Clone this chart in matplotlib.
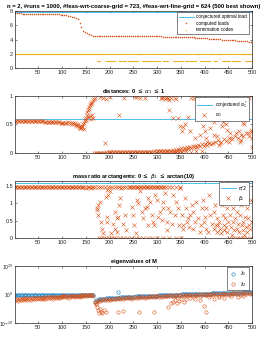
import numpy as np
import matplotlib
matplotlib.use('Agg')
import matplotlib.pyplot as plt

plt.rcParams['font.family'] = ['Liberation Sans', 'DejaVu Sans']
plt.rcParams['mathtext.fontset'] = 'dejavusans'

# ---------------- data ----------------
C_BLUE = '#0072BD'
C_ORANGE = '#D95319'
C_YELLOW = '#EDB120'
C_LIGHT = '#4DBEEE'

n_shown = 500
xticks = [50, 100, 150, 200, 250, 300, 350, 400, 450, 500]

# panel 1: computed loads (index 1,5,9,... step 4)
conj_load = 7.8
load_step = 4
load_vals = [7.65, 7.65, 7.65, 7.65, 7.64, 7.64, 7.64, 7.63, 7.63, 7.63, 7.62, 7.62, 7.62, 7.61, 7.61,
             7.60, 7.60, 7.59, 7.58, 7.57, 7.56, 7.55, 7.53, 7.51, 7.49,
             7.46, 7.43, 7.39, 7.34, 7.29, 7.22, 7.14, 7.03, 6.85, 6.35, 5.70, 5.25, 5.00, 4.85,
             4.72, 4.63, 4.56, 4.51, 4.49,
             4.49, 4.49, 4.49, 4.49, 4.48, 4.48, 4.48, 4.48, 4.48, 4.47,
             4.47, 4.47, 4.47, 4.47, 4.46, 4.46, 4.46, 4.46, 4.46, 4.45,
             4.45, 4.45, 4.45, 4.45, 4.45, 4.44, 4.44, 4.44, 4.44, 4.44,
             4.43, 4.43, 4.43, 4.43, 4.42, 4.42, 4.42, 4.42, 4.41, 4.41,
             4.41, 4.40, 4.40,
             4.39, 4.38, 4.37, 4.36, 4.35, 4.33, 4.32, 4.30, 4.28, 4.26,
             4.24, 4.22, 4.20, 4.18, 4.16, 4.14, 4.12, 4.10, 4.08, 4.06,
             4.04, 4.02, 4.00, 3.98, 3.96, 3.94, 3.92, 3.90, 3.88, 3.86,
             3.84, 3.82, 3.80, 3.77, 3.75, 3.73, 3.71, 3.69]
# termination codes: runs of indices (every other run index) that ended with code 1
code1_runs = [(174, 180), (193, 212), (219, 235), (238, 261), (268, 306), (313, 324),
              (334, 355), (359, 384), (391, 412), (419, 427), (436, 454), (457, 475), (485, 499)]

# panel 2: alpha_1
alpha_conj = 0.59
alpha_start_vals = [0.556, 0.555, 0.556, 0.555, 0.556, 0.555, 0.555, 0.556, 0.555, 0.555,
                    0.555, 0.554, 0.555, 0.554, 0.555, 0.554, 0.554, 0.553, 0.554, 0.553,
                    0.553, 0.552, 0.550, 0.549, 0.548, 0.547, 0.545, 0.544, 0.542, 0.540,
                    0.538, 0.537, 0.535, 0.533, 0.530, 0.528]          # idx 1..106 step 3
alpha_low_vals = [0.005, 0.004, 0.006, 0.005, 0.007, 0.006, 0.008, 0.007, 0.009, 0.008, 0.010,
                  0.010, 0.011, 0.010, 0.012, 0.011, 0.013, 0.012, 0.014, 0.013, 0.015, 0.014,
                  0.016, 0.015, 0.017, 0.016, 0.018, 0.017,
                  0.019, 0.018, 0.020, 0.019, 0.021, 0.020, 0.022, 0.021, 0.023, 0.024, 0.023,
                  0.025, 0.024, 0.026, 0.027, 0.026, 0.028,
                  0.029, 0.030, 0.028, 0.031, 0.033, 0.032, 0.035, 0.034, 0.037, 0.040]  # idx 168..330 step 3
alpha_sc_idx = [109, 112, 115, 118, 121, 124, 126, 128, 130, 132, 134, 135, 137, 138, 139, 141, 142, 143, 145, 146, 147,
                148, 149, 150, 152, 153, 154, 156, 157, 158, 160, 161, 163, 165, 167, 169,
                151, 155, 159, 162, 164, 166,
                180, 186, 193, 201, 231, 253, 257, 264, 275, 308, 310, 313, 316, 318, 321, 323, 326, 329,
                190, 219, 326,
                334, 337, 340, 345, 348, 352, 355, 359, 366, 369, 372, 377, 380, 383, 384, 387, 391, 395, 396,
                401, 403, 406, 412, 419, 420, 422, 426, 430, 433, 436, 438, 441, 445, 448, 451, 453, 455,
                459, 462, 466, 467, 469, 473, 474, 477, 480, 483, 487, 490, 491, 494, 497, 499, 500,
                333, 336, 339, 342, 345, 348, 351, 354, 357, 360, 363, 366, 369, 372, 375, 378, 381, 384,
                387, 390, 394, 398, 402, 406, 410, 414, 418, 423, 428, 434, 440, 446, 452, 458, 464, 470,
                476, 482, 488, 494, 498,
                335, 340, 347, 353, 362, 371, 383, 395]
alpha_sc_val = [0.53, 0.54, 0.52, 0.53, 0.51, 0.52, 0.50, 0.53, 0.49, 0.47, 0.50, 0.45, 0.44, 0.48, 0.43, 0.44, 0.47, 0.46, 0.50, 0.42, 0.52,
                0.56, 0.60, 0.62, 0.66, 0.72, 0.76, 0.80, 0.78, 0.84, 0.86, 0.88, 0.90, 0.93, 0.95, 0.97,
                0.58, 0.64, 0.65, 0.60, 0.66, 0.62,
                0.99, 0.97, 0.95, 0.98, 0.97, 0.98, 0.99, 0.97, 0.97, 0.97, 0.96, 0.98, 0.95, 0.97, 0.99, 0.96, 0.93, 0.97,
                0.17, 0.67, 0.76,
                0.61, 0.97, 0.95, 0.61, 0.47, 0.38, 0.45, 0.50, 0.64, 0.38, 0.97, 0.97, 0.26, 0.97, 0.73, 0.61, 0.32, 0.95, 0.47,
                0.38, 0.26, 0.20, 0.44, 0.55, 0.32, 0.61, 0.29, 0.14, 0.17, 0.47, 0.55, 0.61, 0.50, 0.41, 0.20, 0.35, 0.26,
                0.61, 0.73, 0.85, 0.35, 0.64, 0.38, 0.20, 0.23, 0.52, 0.50, 0.61, 0.79, 0.35, 0.97, 0.41, 0.26, 0.10,
                0.05, 0.03, 0.06, 0.04, 0.07, 0.05, 0.08, 0.06, 0.09, 0.07, 0.10, 0.08, 0.11, 0.09, 0.12, 0.10, 0.13, 0.11,
                0.14, 0.12, 0.15, 0.13, 0.16, 0.14, 0.17, 0.15, 0.18, 0.20, 0.22, 0.19, 0.24, 0.21, 0.27, 0.24, 0.30, 0.27,
                0.32, 0.29, 0.35, 0.30, 0.37,
                0.01, 0.02, 0.01, 0.02, 0.03, 0.02, 0.04, 0.03]

# panel 3: beta_1
beta_start_vals = [1.47] * 47 + [1.46, 1.45, 1.46, 1.44, 1.45, 1.46, 1.44, 1.45, 1.46, 1.47]  # idx 1..169 step 3
beta_top_idx = [176, 181, 185, 190, 196, 200, 206, 211, 215, 221, 226, 230, 235, 240, 243, 246, 249, 252,
                255, 258, 261, 264, 267, 270, 273, 276, 279, 282, 285, 288, 291, 294, 297, 300, 303, 306,
                309, 312, 315, 318, 325, 332, 340, 348]
beta_zero_idx = [178, 183, 188, 192, 198, 204, 209, 214, 222, 228, 236, 245, 255, 262, 270, 280, 290, 300,
                 312, 325, 340, 350, 452, 460, 468, 475, 482, 490, 497]
beta_sc_idx = [173, 174, 176, 176, 179, 183, 185, 186, 194, 195, 192, 194, 197, 201, 204, 208, 211, 215, 218, 220,
               211, 215, 222, 225, 228, 232, 234,
               247, 250, 251, 256, 257, 261, 264, 268, 271, 275, 278, 280, 282, 285, 289, 291, 294, 296, 299,
               303, 306, 310, 313, 313, 317, 320, 322, 324, 327, 331, 334, 338, 341, 345, 347, 348, 352, 354,
               355, 359, 362, 364, 366, 368, 369, 373, 375, 376, 380, 383, 387, 390, 392, 394, 397, 399, 401,
               403, 404, 408, 410, 411, 415, 419, 420, 422, 424, 426, 427, 429, 431, 433, 434, 436, 438, 440,
               441, 443, 445, 447, 448, 450, 452, 454, 455, 457, 459, 461, 462, 464, 466, 468, 469, 471, 473,
               475, 476, 478, 480, 482, 483, 485, 487, 489, 490, 492, 494, 496, 497, 499]
beta_sc_val = [0.85, 0.80, 0.94, 0.65, 1.04, 0.46, 0.27, 0.13, 0.46, 0.61, 1.18, 1.38, 1.23, 1.33, 0.13, 0.41, 0.75, 0.56, 0.61, 0.94,
               0.27, 0.17, 1.14, 1.43, 0.41, 0.65, 0.22,
               0.90, 0.65, 0.37, 0.13, 1.09, 0.99, 1.33, 0.75, 0.56, 0.85, 0.90, 0.37, 1.14, 1.04, 0.65, 0.46, 0.37, 1.23, 1.09,
               0.61, 0.75, 0.51, 1.04, 0.85, 1.28, 0.46, 0.22, 0.85, 0.75, 0.41, 1.23, 0.65, 1.04, 0.85, 0.37, 1.43, 0.65, 0.37,
               0.27, 1.14, 0.85, 0.46, 0.56, 0.32, 0.65, 0.94, 0.27, 0.75, 0.46, 1.04, 0.56, 0.17, 0.37, 0.85, 1.09, 0.46, 0.61,
               0.27, 0.85, 0.17, 1.23, 0.65, 0.41, 0.75, 0.27, 0.94, 0.37, 0.56, 0.17, 0.37, 0.46, 0.27, 0.13, 0.94, 0.65, 0.37,
               0.22, 0.56, 0.32, 0.85, 0.17, 0.46, 1.23, 0.65, 0.32, 0.08, 0.85, 0.46, 0.22, 0.56, 1.09, 0.27, 0.75, 0.41, 0.17,
               0.65, 0.94, 0.37, 0.22, 0.46, 0.08, 0.61, 0.32, 0.85, 0.17, 0.56, 0.37, 0.27, 1.09, 0.46]

# panel 4: eigenvalues (log10)
lam1_start_log = [-0.5, -0.45, -0.5, -0.5, -0.45, -0.5, -0.5, -0.45, -0.5, -0.5, -0.45, -0.5, -0.5, -0.45,
                  -0.5, -0.5, -0.45, -0.5, -0.5, -0.45, -0.5, -0.5, -0.45, -0.5, -0.5, -0.45, -0.5, -0.5,
                  -0.45, -0.5, -0.5, -0.45, -0.5, -0.5, -0.45, -0.5, -0.5, -0.45, -0.5, -0.5, -0.45, -0.5,
                  -0.5, -0.45, -0.5, -0.5, -0.45, -0.5, -0.5, -0.45, -0.5, -0.5, -0.45, -0.5, -0.55, -0.6]  # idx 1..166 step 3
lam1_end_log = [-5.0, -4.2, -3.8, -3.5, -3.3, -3.1, -3.0, -2.9, -2.8, -2.7,
                -2.65, -2.58, -2.5, -2.43, -2.36, -2.29, -2.22, -2.15, -2.08, -2.01, -1.94, -1.87, -1.80, -1.72, -1.65,
                -1.55, -1.51, -1.46, -1.42, -1.37, -1.33, -1.29, -1.24, -1.20, -1.15, -1.11, -1.07, -1.02, -0.98,
                -0.93, -0.89, -0.85, -0.80, -0.76, -0.71, -0.67, -0.63, -0.58, -0.54, -0.49, -0.45, -0.41, -0.36,
                -0.32, -0.27, -0.23, -0.19, -0.14, -0.10, -0.05, 0.0,
                0.05, 0.08, 0.11, 0.14, 0.18, 0.21, 0.24, 0.27, 0.30, 0.34, 0.37, 0.40, 0.43, 0.46, 0.50, 0.53,
                0.56, 0.59, 0.62, 0.66, 0.69, 0.72, 0.75, 0.78, 0.82, 0.85, 0.88, 0.91, 0.94, 0.98, 1.01, 1.04,
                1.07, 1.10, 1.14, 1.17, 1.20, 1.23, 1.26, 1.30, 1.33, 1.36, 1.39, 1.42, 1.46, 1.49, 1.52, 1.55,
                1.57, 1.60]  # idx 169..499 step 3
lam2_start_log = [-3.2, -3.8, -3.0, -4.5, -3.3, -2.9, -3.6, -3.1, -4.2, -2.8,
                  -3.0, -3.4, -2.7, -3.9, -2.9, -2.6, -3.2, -4.0, -2.7, -2.5,
                  -3.0, -2.6, -3.5, -2.4, -2.8, -2.3, -3.3, -2.5, -2.2, -2.9,
                  -2.3, -2.1, -3.1, -2.2, -2.0, -2.6, -1.9, -2.4, -2.0, -1.8,
                  -2.9, -1.9, -1.7, -2.2, -1.6, -1.8, -2.5, -1.5, -1.7, -1.4,
                  -2.0, -1.4, -1.3, -1.9, -1.2, -1.5, -1.1, -2.2, -1.2, -1.0,
                  -1.4, -1.0, -0.9, -1.6, -0.9, -1.2, -0.8, -0.9, -1.9, -0.8,
                  -0.7, -1.0, -0.7, -0.8, -0.6, -0.7, -0.9, -0.6, -0.6, -0.7,
                  -0.6, -0.7, -0.9]  # idx 1..165 step 2
lam2_gap_log = [0.6, 1.2, 0.8, 0.5, 1.5, 0.7, 0.4, 1.0, 0.6, 0.9, 0.5, 1.3, 0.7, 0.4, 0.8, 1.1, 0.5, 0.6, 0.9, 0.4,
                1.2, 0.5, 0.7, 0.3, 0.9, 0.6, 1.4, 0.5, 0.4, 0.8, 0.6, 1.0, 0.3, 0.7, 0.5, 1.2, 0.4, 0.6, 0.9, 0.3,
                0.7, 0.5, 1.1, 0.4, 0.6, 0.8, 0.3, 1.3, 0.5, 0.7, 0.4, 0.9, 0.6, 0.3, 1.0, 0.5, 0.7, 0.4, 1.5, 0.6,
                0.3, 0.8, 0.5, 1.2, 0.4, 0.7, 0.3, 0.9, 0.6, 1.1, 0.4, 0.5, 0.8, 0.3, 1.4, 0.6, 0.4, 0.7, 1.0, 0.5,
                0.3, 0.9, 0.6, 1.2, 0.4, 0.7, 0.5, 1.6, 0.3, 0.8, 0.6, 1.0, 0.4, 0.5, 1.3, 0.7, 0.3, 0.9, 0.5, 1.1,
                0.4, 0.6, 1.4, 0.5, 0.8, 0.3, 1.0, 0.6, 0.4, 1.2, 0.5]
lam2_out_idx = [171, 172, 173, 176, 178, 180, 182, 185, 188, 192, 218, 228, 262, 293, 324, 330, 334, 338, 342,
                346, 350, 356, 362, 370, 380, 390, 398, 403, 410, 420, 430, 440, 455, 470, 480]
lam2_out_log = [-7.0, -6.5, -9.0, -11.0, -13.0, -10.0, -12.0, -13.0, -11.0, -12.0, -12.0, -11.5, -12.5, -12.5, -9.0,
                -6.0, -5.5, -4.0, -6.0, -4.5, -3.0, -5.0, -3.5, -2.5, -3.0, -4.0, -8.0, -12.5, -2.0, -3.0, -1.5,
                -2.5, -1.0, -2.0, -1.0]
lam1_out_idx = [218]
lam1_out_log = [1.5]

# ---------------- figure ----------------
W, H = 261, 343
fig = plt.figure(figsize=(W / 100, H / 100), dpi=100)

def add_ax(top_px, bottom_px):
    return fig.add_axes([15 / W, 1 - bottom_px / H, 237 / W, (bottom_px - top_px) / H])

TICK_FS = 4.0
TITLE_FS = 4.1

def style(ax):
    ax.set_xlim(1, n_shown)
    ax.set_xticks(xticks)
    ax.tick_params(direction='in', length=1.5, width=0.4, labelsize=TICK_FS, pad=1.5,
                   top=True, right=True, colors='#262626')
    for s in ax.spines.values():
        s.set_linewidth(0.5)
        s.set_color('#262626')

def leg(ax, **kw):
    lg = ax.legend(loc='upper right', bbox_to_anchor=(1 - 3 / 237, 1 - 1.3 / 57), borderaxespad=0,
                   fontsize=3.3, frameon=True, fancybox=False, edgecolor='#262626', framealpha=1,
                   borderpad=0.4, labelspacing=0.35, handletextpad=0.6, **kw)
    lg.get_frame().set_linewidth(0.4)
    return lg

# panel 1
ax1 = add_ax(11, 68)
style(ax1)
lidx = 1 + load_step * np.arange(len(load_vals))
ax1.plot([1, n_shown], [conj_load, conj_load], color=C_LIGHT, lw=0.7, label='conjectured optimal load')
ax1.plot(lidx, load_vals, '.', color=C_ORANGE, ms=2.2, mew=0, label='computed loads')
code1 = set()
for a, b in code1_runs:
    code1.update(range(a, b + 1, 2))
all_idx = np.arange(1, n_shown + 1)
c1 = np.array(sorted(code1))
c2 = np.array([i for i in all_idx if i not in code1])
ax1.plot(c2, [2] * len(c2), '.', color=C_YELLOW, ms=1.8, mew=0, label='termination codes')
ax1.plot(c1, [1] * len(c1), '.', color=C_YELLOW, ms=1.8, mew=0)
ax1.set_ylim(0, 8)
ax1.set_yticks([0, 2, 4, 6, 8])
ax1.set_title('n = 2, #runs = 1000, #feas-wrt-coarse-grid = 723, #feas-wrt-fine-grid = 624 (500 best shown)',
              fontsize=4.25, fontweight='bold', pad=2)
leg(ax1, handlelength=3.2)

# panel 2
ax2 = add_ax(96, 153)
style(ax2)
ax2.plot([1, n_shown], [alpha_conj, alpha_conj], color=C_LIGHT, lw=0.7, label=r'conjectured $\alpha_1^*$')
a_idx = np.concatenate([1 + 3 * np.arange(len(alpha_start_vals)), 168 + 3 * np.arange(len(alpha_low_vals)),
                        np.array(alpha_sc_idx)])
a_val = np.concatenate([alpha_start_vals, alpha_low_vals, alpha_sc_val])
ax2.plot(a_idx, a_val, 'x', color=C_ORANGE, ms=2.2, mew=0.4, label=r'$\alpha_1$')
ax2.set_ylim(0, 1)
ax2.set_yticks([0, 0.5, 1])
ax2.set_yticklabels(['0', '0.5', '1'])
ax2.set_title(r'distances: 0 $\leq$ $\alpha_1$ $\leq$ 1', fontsize=TITLE_FS, fontweight='bold', pad=2)
leg(ax2, handlelength=3.2)

# panel 3
ax3 = add_ax(181, 238)
style(ax3)
ax3.plot([1, n_shown], [np.pi / 2, np.pi / 2], color=C_LIGHT, lw=0.7, label=r'$\pi/2$')
b_idx = np.concatenate([1 + 3 * np.arange(len(beta_start_vals)), beta_top_idx, beta_zero_idx, beta_sc_idx])
b_val = np.concatenate([beta_start_vals, [1.47] * len(beta_top_idx), [0.0] * len(beta_zero_idx), beta_sc_val])
ax3.plot(b_idx, b_val, 'x', color=C_ORANGE, ms=2.2, mew=0.4, label=r'$\beta_1$')
ax3.set_ylim(0, 1.63)
ax3.set_yticks([0, 0.5, 1, 1.5])
ax3.set_yticklabels(['0', '0.5', '1', '1.5'])
ax3.set_title(r'mass ratio arctangents: 0 $\leq$ $\beta_1$ $\leq$ arctan(10)', fontsize=TITLE_FS,
              fontweight='bold', pad=2)
leg(ax3, handlelength=3.2)

# panel 4
ax4 = add_ax(266, 323)
style(ax4)
l1_idx = np.concatenate([1 + 3 * np.arange(len(lam1_start_log)), 169 + 3 * np.arange(len(lam1_end_log)),
                         lam1_out_idx])
l1_val = 10.0 ** np.concatenate([lam1_start_log, lam1_end_log, lam1_out_log])
l2_idx = np.concatenate([1 + 2 * np.arange(len(lam2_start_log)), 169 + 3 * np.arange(len(lam2_gap_log)),
                         lam2_out_idx])
l2_val = 10.0 ** np.concatenate([lam2_start_log, np.array(lam1_end_log) - np.array(lam2_gap_log), lam2_out_log])
ax4.plot(l1_idx, l1_val, 'o', mfc='none', mec=C_BLUE, ms=2.4, mew=0.4, label=r'$\lambda_1$')
ax4.plot(l2_idx, l2_val, 'o', mfc='none', mec=C_ORANGE, ms=2.4, mew=0.4, label=r'$\lambda_2$')
ax4.set_yscale('log')
ax4.set_ylim(1e-20, 1e20)
ax4.set_yticks([1e-20, 1e0, 1e20])
ax4.set_yticklabels([r'$10^{-20}$', r'$10^{0}$', r'$10^{20}$'])
ax4.tick_params(axis='y', labelsize=3.3, pad=0.8)
ax4.minorticks_off()
ax4.set_title('eigenvalues of M', fontsize=TITLE_FS, fontweight='bold', pad=2)
leg(ax4, handlelength=2.0)

fig.savefig('out.png', dpi=100)
